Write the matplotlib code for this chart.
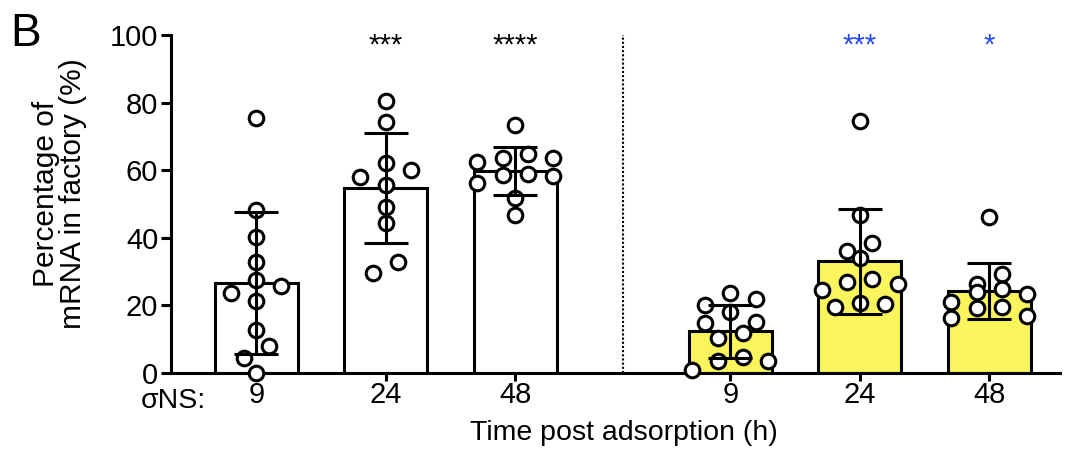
import numpy as np
import matplotlib.pyplot as plt

plt.rcParams["font.family"] = ["Liberation Sans", "DejaVu Sans"]

# time labels (h) for each group
times = ["9", "24", "48"]

# white bars (left group)
white_9 = [75.4, 48.2, 40.2, 32.8, 27.5, 25.7, 23.7, 21.3, 12.7, 8.0, 4.4, 0.0]
white_24 = [80.5, 74.3, 62.0, 60.0, 58.0, 55.6, 49.0, 44.4, 32.8, 29.6]
white_48 = [73.4, 64.8, 63.6, 63.6, 62.4, 58.9, 58.6, 58.3, 56.2, 51.8, 46.7]

# yellow bars (right group)
yellow_9 = [23.7, 21.9, 20.1, 18.0, 15.1, 14.8, 11.8, 10.4, 4.7, 3.6, 3.6, 0.9]
yellow_24 = [74.5, 46.7, 38.5, 36.1, 34.0, 27.8, 26.9, 26.3, 24.6, 20.7, 20.4, 19.5]
yellow_48 = [46.2, 29.3, 26.3, 24.8, 24.0, 23.4, 21.0, 19.5, 19.2, 16.9, 16.3]

stars_white = ["", "***", "****"]
stars_yellow = ["", "***", "*"]


def swarm(values, height=4.0, step=0.195):
    # bin close values into rows and spread each row sideways
    vals = np.sort(np.asarray(values, dtype=float))[::-1]
    offsets = []
    i = 0
    while i < len(vals):
        j = i
        while j < len(vals) and vals[i] - vals[j] <= height + 1e-9:
            j += 1
        n = j - i
        slots = np.arange(n) - (n - 1) / 2
        slots = sorted(slots, key=lambda s: (abs(s), -s))
        offsets.extend(slots)
        i = j
    return vals, np.array(offsets) * step


def draw_group(ax, positions, groups, color, stars, star_color):
    for x, vals, star in zip(positions, groups, stars):
        mean = np.mean(vals)
        sd = np.std(vals, ddof=1)
        ax.bar(x, mean, width=0.64, color=color, edgecolor="black",
               linewidth=2.2, zorder=2)
        ys, dx = swarm(vals)
        ax.plot(x + dx, ys, "o", ms=10.5, mfc="white", mec="black", mew=2.2,
                zorder=3, clip_on=False)
        ax.errorbar(x, mean, yerr=sd, fmt="none", ecolor="black",
                    elinewidth=2.2, capsize=16, capthick=2.2, zorder=4)
        if star:
            ax.text(x, 97, star, ha="center", va="center", fontsize=21,
                    color=star_color)


fig = plt.figure(figsize=(10.67, 4.69), dpi=100)
ax = fig.add_axes([0.160, 0.2047, 0.8334, 0.7207])

left_pos = np.arange(len(times), dtype=float)
right_pos = left_pos + len(times) + 0.66

draw_group(ax, left_pos, [white_9, white_24, white_48], "white",
           stars_white, "black")
draw_group(ax, right_pos, [yellow_9, yellow_24, yellow_48], "#FAF55C",
           stars_yellow, "#2447F0")

ax.axvline((left_pos[-1] + right_pos[0]) / 2, color="black", lw=1.5,
           ls=(0, (1, 1)), zorder=1)

ax.set_xlim(-0.66, 6.205)
ax.set_ylim(0, 100)
ax.set_yticks(np.arange(0, 101, 20))
ax.set_xticks(np.concatenate([left_pos, right_pos]))
ax.set_xticklabels(times + times)

for side in ["top", "right"]:
    ax.spines[side].set_visible(False)
for side in ["left", "bottom"]:
    ax.spines[side].set_linewidth(2.2)
ax.tick_params(axis="both", width=2.2, labelsize=21)
ax.tick_params(axis="x", length=6, pad=0)
ax.tick_params(axis="y", length=7, pad=2)

ax.set_ylabel("Percentage of\nmRNA in factory (%)", fontsize=21.5,
              linespacing=0.95)
ax.yaxis.set_label_coords(-0.094, 0.53)
ax.set_xlabel("Time post adsorption (h)", fontsize=20.5)
ax.xaxis.set_label_coords(0.51, -0.14)

fig.text(206 / 1067, 1 - 401 / 469, "σNS:", ha="right", va="center",
         fontsize=20.5)
fig.text(0.010, 0.975, "B", ha="left", va="top", fontsize=33)

fig.savefig("out.png", dpi=100)
